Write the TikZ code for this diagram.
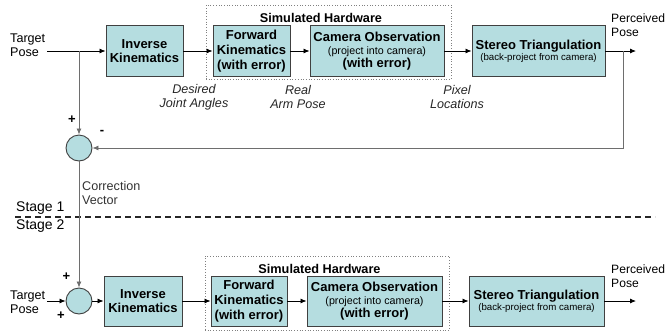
\documentclass[tikz,border=0pt]{standalone}
\usepackage{fontspec}
\setmainfont{Liberation Sans}
\usetikzlibrary{arrows.meta}
\definecolor{boxfill}{HTML}{B5DDE0}
\definecolor{boxline}{HTML}{404040}
\definecolor{fbline}{HTML}{6E6E6E}
\begin{document}
\begin{tikzpicture}[x=1pt,y=-1pt,
  blk/.style={draw=boxline, line width=0.9pt, fill=boxfill, inner sep=0pt, align=center, font=\fontsize{13}{14.8}\selectfont\bfseries},
  sumc/.style={circle, draw=boxline, line width=0.9pt, fill=boxfill, minimum size=26pt, inner sep=0pt},
  hwbox/.style={draw=gray, dotted, line width=0.7pt, inner sep=0pt},
  hwlbl/.style={font=\fontsize{12.7}{14}\selectfont\bfseries, inner sep=0pt},
  arr/.style={-{Latex[length=6pt,width=5pt]}, line width=0.8pt},
  lbl/.style={font=\fontsize{12.6}{14}\selectfont, inner sep=0pt, align=left},
  plbl/.style={font=\fontsize{12.1}{14}\selectfont, inner sep=0pt, align=left},
  itl/.style={font=\fontsize{12.6}{14}\selectfont\itshape, inner sep=0pt, align=center, text=black!85},
  sgn/.style={font=\fontsize{13}{14}\selectfont\bfseries, inner sep=0pt}
]
\useasboundingbox (0,0) rectangle (667,333);

% ---------------- Stage 1 ----------------
\node[hwbox, minimum width=245pt, minimum height=74pt] (hw1) at (328.5,42) {};
\node[hwlbl] (hwl1) at (321,18) {Simulated Hardware};

\node[lbl, anchor=west] (tp1) at (10,45) {Target\\Pose};
\node[blk, minimum width=77pt, minimum height=51pt] (ik1) at (144.5,51) {Inverse\\Kinematics};
\node[blk, minimum width=77pt, minimum height=51pt] (fk1) at (251.5,51) {Forward\\Kinematics\\(with error)};
\node[blk, minimum width=134pt, minimum height=51pt, font=\fontsize{13}{13.2}\selectfont\bfseries] (cam1) at (377,51)
  {Camera Observation\\{\fontsize{10.7}{12}\selectfont\mdseries (project into camera)}\\(with error)};
\node[blk, minimum width=133pt, minimum height=51pt] (st1) at (538.5,51)
  {Stereo Triangulation\\[-4pt]{\fontsize{9.7}{11}\selectfont\mdseries (back-project from camera)}};
\node[plbl, anchor=west] (pp1) at (611,25.5) {Perceived\\Pose};

\node[sumc] (c1) at (79,148) {};
\node[sgn] (p1) at (72,120) {+};
\node[sgn] (m1) at (102,132) {-};

\node[itl] (l1) at (194,97) {Desired\\Joint Angles};
\node[itl] (l2) at (298,97) {Real\\Arm Pose};
\node[itl] (l3) at (457,97) {Pixel\\Locations};

\coordinate (in1) at (47,51);
\coordinate (br1) at (79,51);
\coordinate (fb1) at (623,51);
\coordinate (out1) at (636,51);

\draw[line width=0.8pt] (in1) -- (br1);
\draw[arr] (br1) -- (ik1.west);
\draw[arr, fbline] (br1) -- (c1.north);
\draw[arr] (ik1) -- (fk1);
\draw[arr] (fk1) -- (cam1);
\draw[arr] (cam1) -- (st1);
\draw[arr] (st1.east) -- (out1);
\draw[arr, fbline] (fb1) |- (c1.east);

% ---------------- Correction / stages ----------------
\node[lbl, anchor=west, text=black!80] (cv) at (82,193) {Correction\\Vector};
\coordinate (d1) at (15,217);
\coordinate (d2) at (655,217);
\draw[dash pattern=on 6pt off 4pt, line width=1.3pt, black!85] (d1) -- (d2);
\node[font=\fontsize{14}{16}\selectfont, inner sep=0pt, anchor=west] (s1) at (16,208) {Stage 1};
\node[font=\fontsize{14}{16}\selectfont, inner sep=0pt, anchor=west] (s2) at (16,226) {Stage 2};

% ---------------- Stage 2 ----------------
\node[hwbox, minimum width=244pt, minimum height=74pt] (hw2) at (327,293) {};
\node[hwlbl] (hwl2) at (319.5,269) {Simulated Hardware};

\node[sumc] (c2) at (79,301) {};
\node[sgn] (p2) at (66.5,277) {+};
\node[sgn] (p3) at (61,316) {+};
\node[lbl, anchor=west] (tp2) at (10,302) {Target\\Pose};

\node[blk, minimum width=78pt, minimum height=50pt] (ik2) at (143,301) {Inverse\\Kinematics};
\node[blk, minimum width=76pt, minimum height=50pt] (fk2) at (249,301) {Forward\\Kinematics\\(with error)};
\node[blk, minimum width=135pt, minimum height=50pt, font=\fontsize{13}{13.2}\selectfont\bfseries] (cam2) at (374.5,301)
  {Camera Observation\\{\fontsize{10.7}{12}\selectfont\mdseries (project into camera)}\\(with error)};
\node[blk, minimum width=135pt, minimum height=50pt] (st2) at (536.5,301)
  {Stereo Triangulation\\[-4pt]{\fontsize{9.7}{11}\selectfont\mdseries (back-project from camera)}};
\node[plbl, anchor=west] (pp2) at (611,276) {Perceived\\Pose};

\coordinate (in2) at (47,301);
\coordinate (out2) at (636,301);

\draw[arr, fbline] (c1.south) -- (c2.north);
\draw[arr] (in2) -- (c2.west);
\draw[arr] (c2.east) -- (ik2.west);
\draw[arr] (ik2) -- (fk2);
\draw[arr] (fk2) -- (cam2);
\draw[arr] (cam2) -- (st2);
\draw[arr] (st2.east) -- (out2);
\end{tikzpicture}
\end{document}
